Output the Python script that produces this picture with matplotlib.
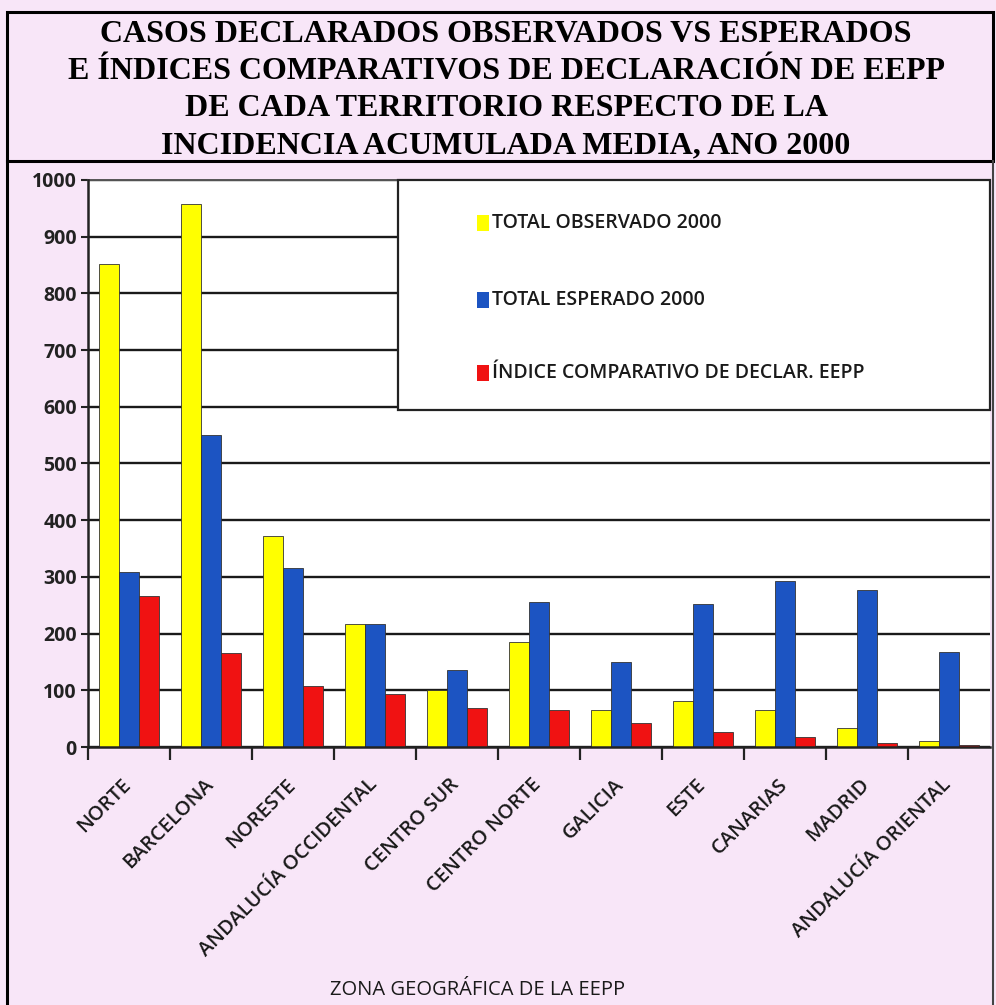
#!/usr/bin/env python3
# %% load libraries
import numpy as np
import matplotlib
matplotlib.use('Agg')
import matplotlib.pyplot as plt
from matplotlib.patches import Rectangle
from matplotlib.lines import Line2D


# %% data
zonas = ['NORTE', 'BARCELONA', 'NORESTE', 'ANDALUCÍA OCCIDENTAL', 'CENTRO SUR',
         'CENTRO NORTE', 'GALICIA', 'ESTE', 'CANARIAS', 'MADRID',
         'ANDALUCÍA ORIENTAL']
observado = [852, 958, 372, 217, 100, 186, 66, 81, 66, 33, 10]
esperado = [309, 551, 316, 217, 135, 256, 150, 252, 292, 277, 167]
indice = [266, 166, 107, 93, 69, 66, 42, 27, 17, 7, 3]

series = ['TOTAL OBSERVADO 2000', 'TOTAL ESPERADO 2000',
          'ÍNDICE COMPARATIVO DE DECLAR. EEPP']
colores = ['#ffff00', '#1c54c2', '#f01212']
y_ticks = list(range(0, 1001, 100))

titulo = ['CASOS DECLARADOS OBSERVADOS VS ESPERADOS',
          'E ÍNDICES COMPARATIVOS DE DECLARACIÓN DE EEPP',
          'DE CADA TERRITORIO RESPECTO DE LA',
          'INCIDENCIA ACUMULADA MEDIA, ANO 2000']
x_title = 'ZONA GEOGRÁFICA DE LA EEPP'

W, H = 996, 1005
pink = '#f8e6f8'


def fx(px):
    return px / W


def fy(py):
    return 1 - py / H


# %% figure
fig = plt.figure(figsize=(W / 100, H / 100), dpi=100)
fig.patch.set_facecolor(pink)

# --+ header box
fig.patches.append(Rectangle((fx(7), fy(161)), fx(993) - fx(7), fy(12) - fy(161),
                             transform=fig.transFigure, facecolor=pink,
                             edgecolor='black', lw=2.2, zorder=0))
fig.lines.append(Line2D([fx(7), fx(7)], [fy(161), 0], transform=fig.transFigure,
                        color='black', lw=2.2))
fig.lines.append(Line2D([fx(993), fx(993)], [fy(161), 0],
                        transform=fig.transFigure, color='#444444', lw=1.5))
baselines = [42, 79, 116, 153]
for txt, b in zip(titulo, baselines):
    fig.text(fx(506), fy(b), txt, ha='center', va='baseline',
             family='Liberation Serif', weight='bold', fontsize=23,
             color='black')

# --+ axes
ax = fig.add_axes([fx(88), fy(747), fx(990) - fx(88), fy(180) - fy(747)])
ax.set_facecolor('white')
x = np.arange(len(zonas))
w = 0.245
for k, (vals, c) in enumerate(zip([observado, esperado, indice], colores)):
    ax.bar(x + (k - 1) * w, vals, width=w, color=c, edgecolor='#333333',
           linewidth=0.6, zorder=2)

ax.set_xlim(-0.5, 10.5)
ax.set_ylim(0, 1000)
ax.set_yticks(y_ticks)
ax.set_yticklabels([str(v) for v in y_ticks], family='Open Sans',
                   weight='bold', fontsize=14, color='#222222')
ax.yaxis.grid(True, color='#1a1a1a', lw=1.7, zorder=1)
ax.set_axisbelow(True)
ax.tick_params(axis='y', length=5, width=1.5, pad=3, color='#222222')

ax.set_xticks(x + 0.08)
ax.set_xticklabels(zonas, rotation=45, ha='right', va='top',
                   family='Open Sans', weight='semibold', fontsize=14.5,
                   color='#1a1a1a')
ax.tick_params(axis='x', which='major', length=0, pad=20)
ax.set_xticks(np.arange(-0.5, 10.0, 1.0), minor=True)
ax.tick_params(axis='x', which='minor', length=9, width=1.6,
               direction='out', color='#222222')

for s in ['top', 'right']:
    ax.spines[s].set_visible(False)
for s in ['left', 'bottom']:
    ax.spines[s].set_linewidth(1.8)
    ax.spines[s].set_color('#222222')
ax.axhline(1000, color='#555555', lw=1.4, zorder=1, clip_on=False)

# --+ legend box
ax.add_patch(Rectangle((3.28, 594), 10.5 - 3.28, 406, facecolor='white',
                       edgecolor='#222222', lw=1.6, zorder=3, clip_on=False))
rows = [924, 788, 660]
for lab, c, yv in zip(series, colores, rows):
    ax.add_patch(Rectangle((4.24, yv - 14), 0.145, 28, facecolor=c,
                           edgecolor='none', zorder=4))
    ax.text(4.43, yv, lab, va='center', ha='left', family='Open Sans',
            weight='semibold', fontsize=14, color='#1a1a1a', zorder=4)

# --+ x title
fig.text(fx(478), fy(990), x_title, ha='center', va='center',
         family='Open Sans', fontsize=14.5, color='#1a1a1a')

plt.savefig('out.png', dpi=100, facecolor=fig.get_facecolor())
